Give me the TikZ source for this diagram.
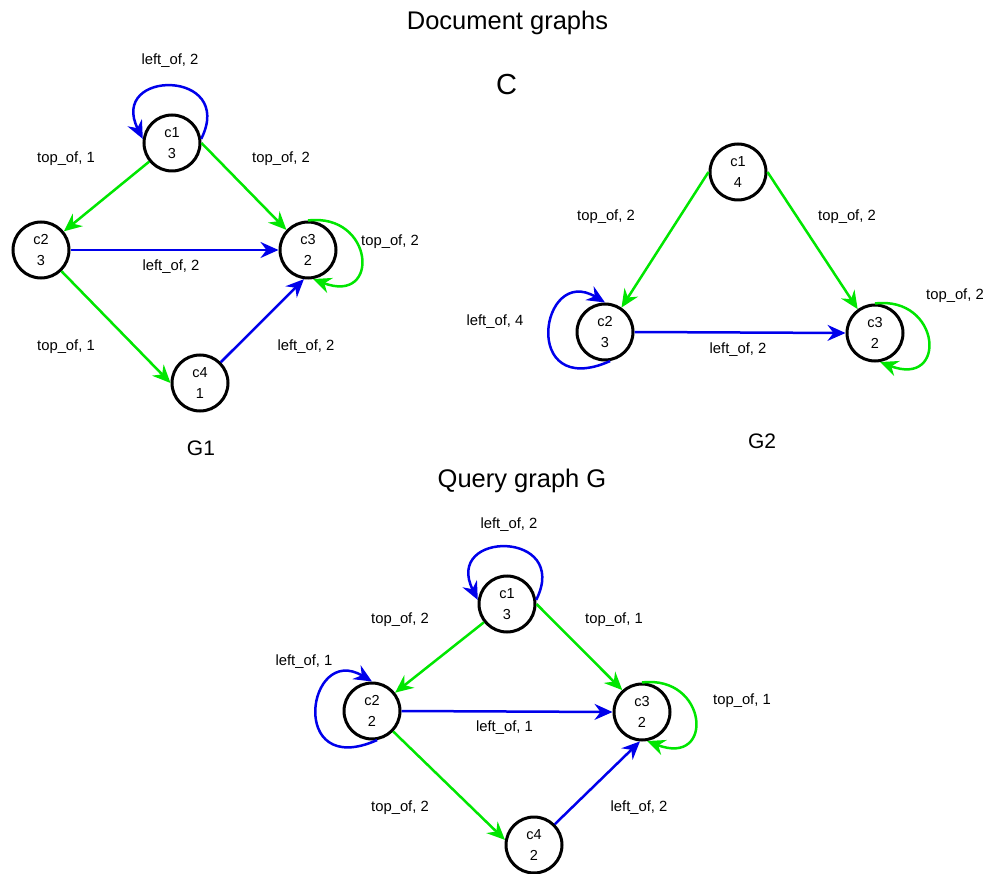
\documentclass[tikz,border=0pt]{standalone}
\usepackage{fontspec}
\setmainfont{Liberation Sans}
\usetikzlibrary{arrows.meta}
\definecolor{eg}{RGB}{0,230,0}
\definecolor{eb}{RGB}{0,0,235}
\begin{document}
\begin{tikzpicture}[x=1pt,y=-1pt,
  vtx/.style={circle,draw=black,line width=3pt,minimum size=56pt,inner sep=0pt,align=center,font=\fontsize{14.5}{21.5}\selectfont},
  lbl/.style={inner sep=0pt,font=\fontsize{14.8}{17}\selectfont},
  ttl/.style={inner sep=0pt,anchor=base,font=\fontsize{25.5}{30}\selectfont},
  sub/.style={inner sep=0pt,anchor=base,font=\fontsize{21}{25}\selectfont},
  arr/.style={line width=2.5pt,-{Stealth[length=18pt,width=16pt,inset=6pt]}},
  ge/.style={arr,color=eg},
  be/.style={arr,color=eb},
]
\useasboundingbox (0,0) rectangle (988,874);

% titles
\node[ttl] (t1) at (507.5,29.3) {Document graphs};
\node[ttl,font=\fontsize{29}{34}\selectfont] (t2) at (506.5,95) {C};
\node[sub] (t3) at (201,455) {G1};
\node[sub] (t4) at (762,449) {G2};
\node[ttl] (t5) at (522,487) {Query graph G};

% ---------- G1 ----------
\node[vtx] (a1) at (172,143) {c1\\3};
\node[vtx] (a2) at (41,250) {c2\\3};
\node[vtx] (a3) at (308,250) {c3\\2};
\node[vtx] (a4) at (200,383) {c4\\1};
\draw[ge] (a1) -- (a2);
\draw[ge] (a1.east) -- (a3.137);
\draw[be] (a2.east) -- (a3.west);
\draw[ge] (a2.-46) -- (a4.west);
\draw[be] (a4.45) -- (a3.-98);
\draw[be] (a1.8) .. controls +(35,-70) and +(-35,-70) .. (a1.172);
\draw[ge] (a3.north) .. controls +(66,-8) and +(68,26) .. (a3.-80);
\node[lbl] (la1) at (170,61) {left\_of, 2};
\node[lbl] (la2) at (66,159) {top\_of, 1};
\node[lbl] (la3) at (281,159) {top\_of, 2};
\node[lbl] (la4) at (171,267) {left\_of, 2};
\node[lbl] (la5) at (390,242) {top\_of, 2};
\node[lbl] (la6) at (66,347) {top\_of, 1};
\node[lbl] (la7) at (306,347) {left\_of, 2};

% ---------- G2 ----------
\node[vtx] (b1) at (738,172) {c1\\4};
\node[vtx] (b2) at (605,332) {c2\\3};
\node[vtx] (b3) at (875,333) {c3\\2};
\draw[ge] (b1.west) -- (b2.56);
\draw[ge] (b1.east) -- (b3.126);
\draw[be] (b2.east) -- (b3.west);
\draw[be] (b2.-80) .. controls +(-90,40) and +(-65,-39) .. (b2.north);
\draw[ge] (b3.north) .. controls +(66,-8) and +(68,26) .. (b3.-80);
\node[lbl] (lb1) at (606,217) {top\_of, 2};
\node[lbl] (lb2) at (847,217) {top\_of, 2};
\node[lbl] (lb3) at (738,350) {left\_of, 2};
\node[lbl] (lb4) at (495,322) {left\_of, 4};
\node[lbl] (lb5) at (955,296) {top\_of, 2};

% ---------- Query graph ----------
\node[vtx] (q1) at (507,604) {c1\\3};
\node[vtx] (q2) at (372,711) {c2\\2};
\node[vtx] (q3) at (642,712) {c3\\2};
\node[vtx] (q4) at (534,845) {c4\\2};
\draw[ge] (q1) -- (q2);
\draw[ge] (q1.east) -- (q3.132);
\draw[be] (q2.east) -- (q3.west);
\draw[ge] (q2.-44) -- (q4.170);
\draw[be] (q4.45) -- (q3.-94);
\draw[be] (q1.8) .. controls +(35,-70) and +(-35,-70) .. (q1.172);
\draw[be] (q2.-80) .. controls +(-90,40) and +(-65,-39) .. (q2.north);
\draw[ge] (q3.north) .. controls +(66,-8) and +(68,26) .. (q3.-80);
\node[lbl] (lq1) at (509,525) {left\_of, 2};
\node[lbl] (lq2) at (400,620) {top\_of, 2};
\node[lbl] (lq3) at (614,620) {top\_of, 1};
\node[lbl] (lq4) at (304,662) {left\_of, 1};
\node[lbl] (lq5) at (504.5,728) {left\_of, 1};
\node[lbl] (lq6) at (742,701) {top\_of, 1};
\node[lbl] (lq7) at (400,808) {top\_of, 2};
\node[lbl] (lq8) at (639,808) {left\_of, 2};
\end{tikzpicture}
\end{document}
